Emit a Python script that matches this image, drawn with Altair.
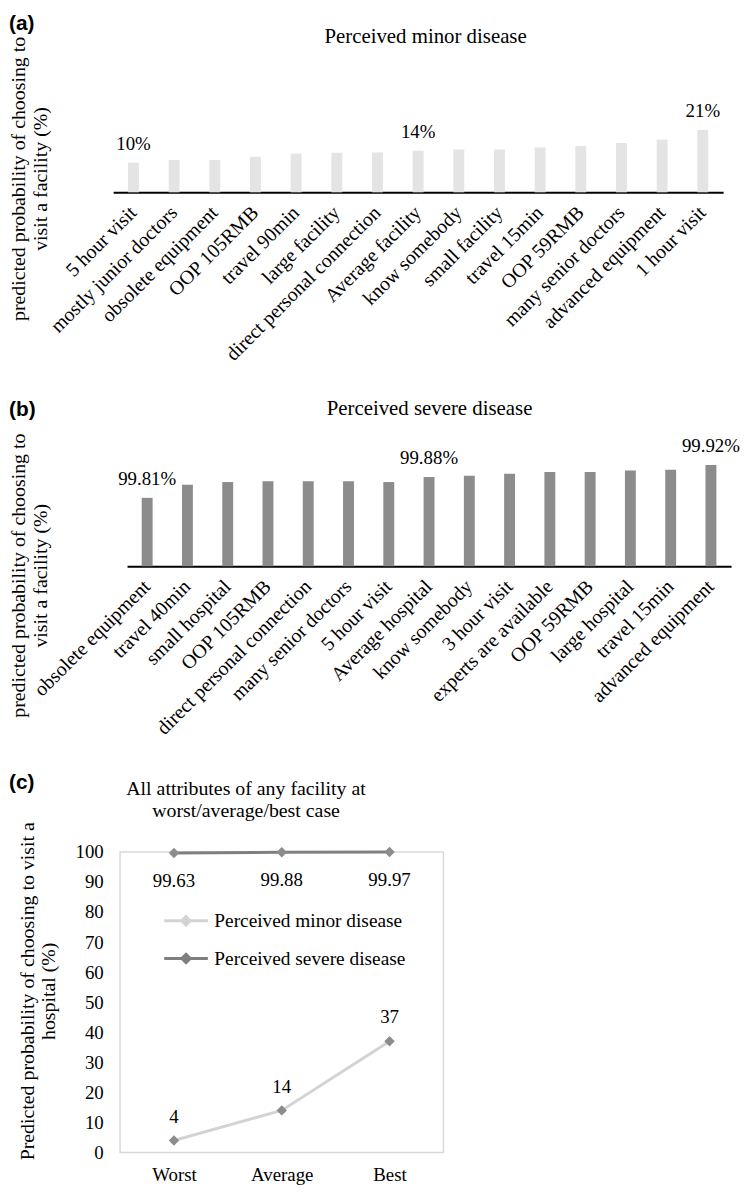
import altair as alt
import pandas as pd

SERIF = "Liberation Serif"
SANS = "Liberation Sans"

# ---------------- data ----------------
minor_attrs = ["5 hour visit", "mostly junior doctors", "obsolete equipment", "OOP 105RMB",
               "travel 90min", "large facility", "direct personal connection", "Average facility",
               "know somebody", "small facility", "travel 15min", "OOP 59RMB",
               "many senior doctors", "advanced equipment", "1 hour visit"]
minor_probs = [10, 10.9, 10.9, 11.9, 13.0, 13.3, 13.4, 14.0, 14.4, 14.4, 15.1, 15.6, 16.6, 17.7, 21.0]
minor_labels = ["10%", "", "", "", "", "", "", "14%", "", "", "", "", "", "", "21%"]

severe_attrs = ["obsolete equipment", "travel 40min", "small hospital", "OOP 105RMB",
                "direct personal connection", "many senior doctors", "5 hour visit", "Average hospital",
                "know somebody", "3 hour visit", "experts are available", "OOP 59RMB",
                "large hospital", "travel 15min", "advanced equipment"]
severe_probs = [99.81, 99.854, 99.863, 99.866, 99.866, 99.866, 99.863, 99.88,
                99.884, 99.891, 99.897, 99.897, 99.902, 99.904, 99.92]
severe_labels = ["99.81%", "", "", "", "", "", "", "99.88%", "", "", "", "", "", "", "99.92%"]
severe_base = 99.58

cases = ["Worst", "Average", "Best"]
series_names = ["Perceived minor disease", "Perceived severe disease"]
case_minor = [4, 14, 37]
case_severe = [99.63, 99.88, 99.97]
case_minor_labels = ["4", "14", "37"]
case_severe_labels = ["99.63", "99.88", "99.97"]

panel_tags = ["(a)", "(b)", "(c)"]
panel_titles = ["Perceived minor disease", "Perceived severe disease",
                "All attributes of any facility at\nworst/average/best case"]
ytitle_ab = ["predicted probability of choosing to", "visit a facility (%)"]
ytitle_c = ["Predicted probability of choosing to visit a", "hospital (%)"]


def header(tag, title, tx, ty, tagy, fs=21, base="middle", lh=22):
    tag_layer = alt.Chart(pd.DataFrame({"t": [tag]})).mark_text(
        align="left", baseline="middle", font=SANS, fontSize=21, fontWeight="bold", color="black"
    ).encode(text="t:N", x=alt.value(-112), y=alt.value(tagy))
    title_layer = alt.Chart(pd.DataFrame({"t": [title]})).mark_text(
        align="center", baseline=base, font=SERIF, fontSize=fs, color="black",
        lineBreak="\n", lineHeight=lh
    ).encode(text="t:N", x=alt.value(tx), y=alt.value(ty))
    return tag_layer, title_layer


def bar_axis_x():
    return alt.Axis(title=None, labelAngle=315, labelAlign="right", labelBaseline="middle",
                    labelPadding=17, ticks=False, domainColor="black", domainWidth=2,
                    labelFont=SERIF, labelFontSize=20, labelColor="black", labelLimit=0)


def bar_axis_y(ty):
    return alt.Axis(title=ytitle_ab, labels=False, ticks=False, domain=False, grid=False,
                    titleX=-102, titleY=ty, titleAngle=270, titleAlign="center",
                    titleBaseline="middle", titleFont=SERIF, titleFontSize=20,
                    titleFontWeight="normal", titleColor="black", titleLineHeight=22)


# ---------------- panel (a) ----------------
df_a = pd.DataFrame({"attr": minor_attrs, "p": minor_probs, "lab": minor_labels})
xa = alt.X("attr:N", sort=minor_attrs,
           scale=alt.Scale(range=[-7, 608], paddingInner=0, paddingOuter=0), axis=bar_axis_x())
ya = alt.Y("p:Q", scale=alt.Scale(domain=[0, 25], nice=False, zero=True), axis=bar_axis_y(61))
base_a = alt.Chart(df_a).encode(x=xa, y=ya)
bars_a = base_a.mark_bar(size=11, color="#e4e4e4")
text_a = base_a.mark_text(dy=-13, baseline="alphabetic", font=SERIF, fontSize=19,
                          color="black").encode(text="lab:N")
tag_a, title_a = header(panel_tags[0], panel_titles[0], 308, -82, -95)
chart_a = alt.layer(bars_a, text_a, tag_a, title_a).properties(width=608, height=75)

# ---------------- panel (b) ----------------
df_b = pd.DataFrame({"attr": severe_attrs, "p": severe_probs, "lab": severe_labels})
xb = alt.X("attr:N", sort=severe_attrs,
           scale=alt.Scale(range=[7, 616], paddingInner=0, paddingOuter=0), axis=bar_axis_x())
yb = alt.Y("p:Q", scale=alt.Scale(domain=[severe_base, 99.95], nice=False, zero=False),
           axis=bar_axis_y(120))
base_b = alt.Chart(df_b).encode(x=xb, y=yb)
bars_b = base_b.mark_bar(size=11, color="#8c8c8c").encode(y2=alt.datum(severe_base))
text_b = base_b.mark_text(dy=-13, baseline="alphabetic", font=SERIF, fontSize=19,
                          color="black").encode(text="lab:N")
tag_b, title_b = header(panel_tags[1], panel_titles[1], 312, -48, -47)
chart_b = alt.layer(bars_b, text_b, tag_b, title_b).properties(width=616, height=111)

# ---------------- panel (c) ----------------
df_c = pd.DataFrame({
    "case": cases * 2,
    "series": [series_names[0]] * 3 + [series_names[1]] * 3,
    "v": case_minor + case_severe,
    "lab": case_minor_labels + case_severe_labels,
})
legend_path = "M-2.2,0L2.2,0M0,-0.42L0.42,0L0,0.42L-0.42,0Z"
xc = alt.X("case:N", sort=cases, scale=alt.Scale(type="point", padding=0.5),
           axis=alt.Axis(title=None, labelAngle=0, labelPadding=13, labelBaseline="top",
                         ticks=False, domain=False, labelFont=SERIF, labelFontSize=19,
                         labelColor="black"))
yc = alt.Y("v:Q", scale=alt.Scale(domain=[0, 100], nice=False),
           axis=alt.Axis(title=ytitle_c, values=list(range(0, 101, 10)), ticks=False,
                         domain=False, grid=False, labelPadding=17, labelFont=SERIF,
                         labelFontSize=19, labelColor="black",
                         titleX=-93, titleY=140, titleAngle=270, titleAlign="center",
                         titleBaseline="middle", titleFont=SERIF, titleFontSize=20,
                         titleFontWeight="normal", titleColor="black", titleLineHeight=21))
base_c = alt.Chart(df_c).encode(x=xc, y=yc)
line_c = base_c.mark_line(strokeWidth=3).encode(
    color=alt.Color("series:N",
                    scale=alt.Scale(domain=series_names, range=["#d3d3d3", "#7f7f7f"]),
                    legend=alt.Legend(title=None, orient="none", legendX=55, legendY=58,
                                      symbolType=legend_path, symbolSize=400,
                                      symbolStrokeWidth=3, symbolFillColor="#8c8c8c",
                                      labelFont=SERIF, labelFontSize=19.5, labelColor="black",
                                      labelOffset=17, rowPadding=16, labelLimit=0))
)
pts_c = base_c.mark_point(shape="diamond", filled=True, size=110, color="#8c8c8c", opacity=1)
lab_minor = base_c.transform_filter(alt.datum.series == series_names[0]).mark_text(
    dy=-24, baseline="middle", font=SERIF, fontSize=19, color="black").encode(text="lab:N")
lab_severe = base_c.transform_filter(alt.datum.series == series_names[1]).mark_text(
    dy=28, baseline="middle", font=SERIF, fontSize=19, color="black").encode(text="lab:N")
tag_c, title_c = header(panel_tags[2], panel_titles[2], 127, -73, -69, fs=20, base="top")
chart_c = alt.layer(line_c, pts_c, lab_minor, lab_severe, tag_c, title_c).properties(
    width=326, height=303, view=alt.ViewBackground(stroke="#d9d9d9", strokeWidth=1.5))

chart = alt.concat(chart_a, chart_b, chart_c, columns=1, align="each", spacing=33).properties(
    padding={"left": 0, "top": 0, "right": 0, "bottom": 0}
).resolve_legend(color="independent").configure_view(strokeWidth=0).configure_axis(grid=False)

chart.save("out.html", embed_options={"renderer": "svg", "actions": False})
